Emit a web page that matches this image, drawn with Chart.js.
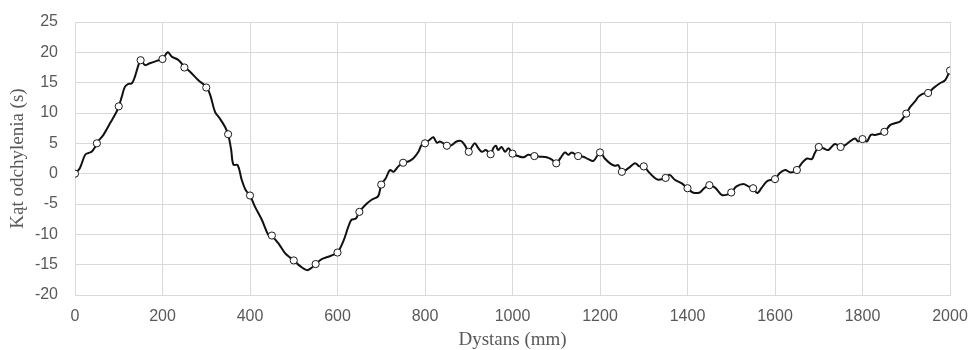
<!DOCTYPE html>
<html>
<head>
<meta charset="utf-8">
<script src="https://cdn.jsdelivr.net/npm/chart.js@4/dist/chart.umd.min.js"></script>
<style>
  html, body { margin: 0; padding: 0; background: #fff; }
  #wrap { width: 970px; height: 350px; }
</style>
</head>
<body>
<div id="wrap"><canvas id="myChart" width="970" height="350"></canvas></div>
<script>
// dense traced curve (distance in mm, angle)
var curveX = [0, 11, 23, 30, 38, 46, 50, 65, 80, 95, 100, 107, 114, 122, 130, 137, 145, 150, 160, 171, 187, 200,
  212, 221, 237, 250, 263, 282, 300, 309, 320, 331, 343, 350, 357, 362, 372, 381, 390, 400,
  411, 427, 442, 450, 465, 480, 491, 500, 514, 530, 541, 550, 564, 579, 590, 600,
  613, 625, 632, 642, 650, 663, 678, 693, 700, 710, 720, 728, 739, 750, 762, 773, 785, 792, 800,
  811, 819, 827, 834, 842, 850, 861, 872, 882, 891, 900, 907, 914, 922, 930, 939, 950,
  956, 962, 967, 975, 983, 991, 1000, 1013, 1025, 1036, 1050, 1063, 1078, 1090, 1100,
  1109, 1120, 1128, 1135, 1150, 1162, 1173, 1185, 1200, 1211, 1223, 1234, 1242, 1250,
  1265, 1280, 1290, 1300, 1311, 1322, 1333, 1350, 1359, 1371, 1387, 1400, 1412, 1428, 1438, 1450,
  1463, 1478, 1489, 1500, 1512, 1528, 1539, 1550, 1559, 1569, 1581, 1592, 1600,
  1611, 1623, 1636, 1650, 1661, 1673, 1684, 1691, 1700, 1710, 1722, 1737, 1750,
  1760, 1771, 1783, 1790, 1800, 1810, 1819, 1831, 1850, 1863, 1874, 1886, 1900,
  1909, 1920, 1928, 1939, 1950, 1962, 1977, 1989, 2000];
var curveY = [0, 0.9, 3.1, 3.4, 3.6, 4.4, 5.1, 6.4, 8.3, 10.2, 11.1, 12.7, 14.3, 14.8, 14.9, 16.0, 17.9, 18.7, 17.9, 18.2, 18.6, 18.9,
  20.0, 19.3, 18.7, 17.6, 16.8, 15.4, 14.3, 13.0, 10.2, 9.1, 7.7, 6.5, 3.9, 1.5, 1.4, -1.0, -2.7, -3.6,
  -5.4, -7.6, -10.1, -10.3, -11.5, -13.1, -13.8, -14.3, -15.2, -15.9, -15.5, -14.9, -14.1, -13.7, -13.4, -13.0,
  -11.2, -8.7, -7.6, -7.4, -6.3, -5.2, -4.3, -3.7, -1.8, -0.8, 0.6, 0.3, 1.2, 1.8, 2.0, 2.5, 3.6, 4.7, 5.0,
  5.6, 6.0, 5.1, 5.3, 5.0, 4.6, 4.7, 5.3, 5.4, 4.7, 3.6, 4.4, 5.0, 4.2, 3.6, 3.9, 3.2,
  4.2, 4.6, 3.9, 4.4, 3.6, 4.2, 3.3, 2.9, 2.7, 3.1, 2.9, 2.8, 2.7, 2.3, 1.7,
  2.5, 3.5, 3.1, 3.5, 2.9, 2.8, 2.4, 2.1, 3.5, 2.5, 1.7, 1.3, 1.4, 0.3,
  0.9, 1.7, 1.2, 1.2, 0.3, -0.5, -1.0, -0.7, -0.2, -1.0, -1.6, -2.4, -3.1, -3.1, -2.4, -1.9,
  -2.3, -3.5, -3.5, -3.1, -2.1, -1.7, -2.1, -2.4, -3.2, -2.4, -1.3, -1.0, -0.9,
  0.1, 0.6, 0.2, 0.6, 1.7, 2.5, 2.4, 3.4, 4.4, 4.2, 3.9, 4.9, 4.4,
  4.7, 5.3, 5.8, 5.3, 5.7, 5.3, 6.4, 6.4, 6.9, 8.0, 8.3, 8.6, 9.9,
  11.0, 11.9, 12.7, 13.2, 13.3, 14.1, 14.9, 15.4, 17.0];

// measured points every 50 mm
var pointX = [0, 50, 100, 150, 200, 250, 300, 350, 400, 450, 500, 550, 600, 650, 700, 750, 800, 850, 900, 950,
  1000, 1050, 1100, 1150, 1200, 1250, 1300, 1350, 1400, 1450, 1500, 1550, 1600, 1650, 1700, 1750, 1800, 1850, 1900, 1950, 2000];
var pointY = [0, 5.0, 11.1, 18.7, 18.9, 17.5, 14.2, 6.5, -3.6, -10.2, -14.3, -14.9, -13.0, -6.3, -1.8, 1.8, 5.0, 4.6, 3.6, 3.2,
  3.3, 2.9, 1.7, 2.9, 3.5, 0.3, 1.2, -0.7, -2.4, -1.9, -3.1, -2.4, -0.9, 0.6, 4.4, 4.4, 5.7, 6.9, 9.9, 13.3, 17.0];

var xTitle = "Dystans (mm)";
var yTitle = "Kąt odchylenia (s)";

function toXY(xs, ys) {
  return xs.map(function (x, i) { return { x: x, y: ys[i] }; });
}

var gridColor = '#d9d9d9';
var textColor = '#595959';

var ctx = document.getElementById("myChart").getContext("2d");
var myChart = new Chart(ctx, {
  type: 'scatter',
  data: {
    datasets: [{
      label: 'points',
      data: toXY(pointX, pointY),
      showLine: false,
      order: 0,
      pointRadius: 3.6,
      pointBackgroundColor: '#ffffff',
      pointBorderColor: '#1a1a1a',
      pointBorderWidth: 1
    }, {
      label: 'curve',
      data: toXY(curveX, curveY),
      showLine: true,
      order: 1,
      borderColor: '#111111',
      borderWidth: 2,
      pointRadius: 0,
      tension: 0.35,
      fill: false
    }]
  },
  options: {
    responsive: false,
    animation: false,
    layout: { padding: { top: 22, right: 20, left: 0, bottom: 0 } },
    plugins: {
      legend: { display: false },
      tooltip: { enabled: false }
    },
    scales: {
      x: {
        type: 'linear',
        min: 0,
        max: 2000,
        afterFit: function (scale) {
          scale.height = 55;
          scale.paddingLeft = 0;
          scale.paddingRight = 0;
        },
        ticks: {
          stepSize: 200,
          padding: 12,
          color: textColor,
          font: { family: 'Liberation Sans', size: 16 },
          callback: function (v) { return String(v); }
        },
        grid: { color: gridColor, lineWidth: 1, drawTicks: false },
        border: { color: gridColor },
        title: {
          display: true,
          text: xTitle,
          color: textColor,
          padding: { top: 0, bottom: 0 },
          font: { family: 'Liberation Serif', size: 19, lineHeight: 1 }
        }
      },
      y: {
        type: 'linear',
        min: -20,
        max: 25,
        afterFit: function (scale) {
          scale.width = 75;
          scale.paddingTop = 0;
          scale.paddingBottom = 0;
        },
        ticks: {
          stepSize: 5,
          padding: 17,
          color: textColor,
          font: { family: 'Liberation Sans', size: 16 }
        },
        grid: { color: gridColor, lineWidth: 1, drawTicks: false },
        border: { color: gridColor },
        title: {
          display: true,
          text: yTitle,
          color: textColor,
          padding: { top: 9, bottom: 0 },
          font: { family: 'Liberation Serif', size: 19, lineHeight: 1 }
        }
      }
    }
  }
});
</script>
</body>
</html>
